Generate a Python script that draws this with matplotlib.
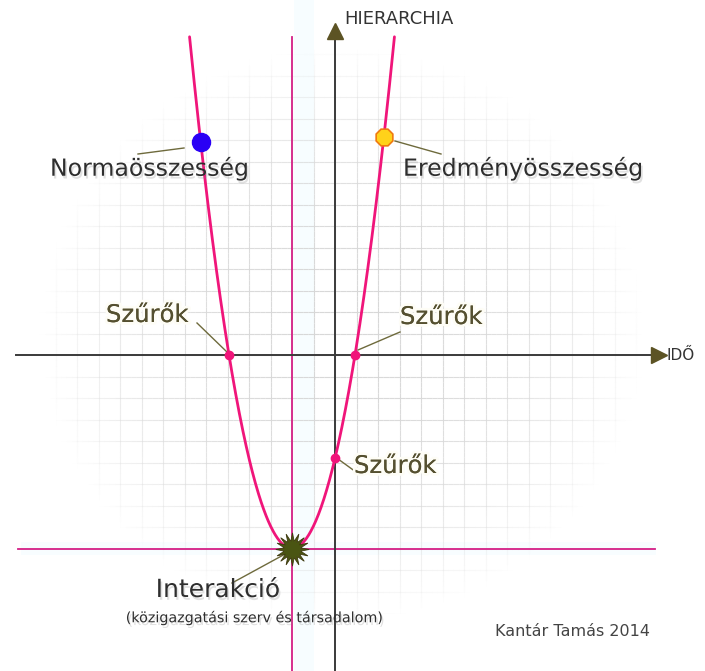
# Parabola chart: hierarchy vs. time (Kantár Tamás 2014)
import numpy as np
import matplotlib
matplotlib.use("Agg")
import matplotlib.pyplot as plt
import matplotlib.patheffects as pe
from matplotlib.collections import LineCollection

# data, in grid units (one unit = one grid cell), origin where the axes cross
vertex = (-2.0, -9.0)        # Interakció
root_half_width = 2.93       # parabola meets the IDŐ axis at vertex_x +/- this
curve_top = 14.8             # where the curve is cut off at the top
norma_y = 9.9                # blue dot height (left branch)
eredmeny_y = 10.14           # yellow dot height (right branch)

labels = ["Normaösszesség", "Eredményösszesség", "Szűrők", "Szűrők", "Szűrők",
          "Interakció", "(közigazgatási szerv és társadalom)"]
axis_names = ["HIERARCHIA", "IDŐ"]
credit = "Kantár Tamás 2014"

pink = "#f0157a"
line_pink = "#d41f86"
olive = "#5c5324"
text_dark = "#2e2e2e"

def px_x(p):  # reference pixel column -> grid units
    return (p - 335) / 21.5

def px_y(p):
    return (355 - p) / 21.5

vx, vy = vertex
a = -vy / root_half_width ** 2

def branch_x(y, side):
    return vx + side * np.sqrt((y - vy) / a)

fig = plt.figure(figsize=(7.05, 6.71), dpi=100)
ax = fig.add_axes([0, 0, 1, 1])
ax.set_xlim(px_x(0), px_x(705))
ax.set_ylim(px_y(671), px_y(0))
ax.axis("off")

# faded background grid
segs, cols = [], []
gx = np.arange(-14, 15)
gy = np.arange(-13, 15)
step = np.linspace(-14.5, 15.5, 121)
for k in gx:
    for y0, y1 in zip(step[:-1], step[1:]):
        segs.append([(k, y0), (k, y1)])
for k in gy:
    for x0, x1 in zip(step[:-1], step[1:]):
        segs.append([(x0, k), (x1, k)])
for s in segs:
    mx = (s[0][0] + s[1][0]) / 2
    my = (s[0][1] + s[1][1]) / 2
    r = np.hypot(mx - 0.3, (my - 1.0) * 1.05) / 14.0
    al = np.clip(1 - r ** 2.5, 0, 1) * 0.9
    cols.append((0.83, 0.83, 0.83, al))
ax.add_collection(LineCollection(segs, colors=cols, linewidths=0.8, zorder=1))

# very faint cyan glow along the pink guide lines
ax.axvspan(vx + 0.1, vx + 1.0, color="#f7fdff", zorder=0.5, lw=0)
ax.axhspan(vy - 0.3, vy + 0.3, xmin=0.03, xmax=0.93, color="#f8fdff", zorder=0.5, lw=0)

# pink guide lines through the vertex
ax.plot([vx, vx], [px_y(671), curve_top], color=line_pink, lw=1.3, zorder=2)
ax.plot([px_x(18), px_x(655)], [vy, vy], color=line_pink, lw=1.3, zorder=2)

# axes with arrows
ax.plot([0, 0], [px_y(671), px_y(35)], color="#3a3a3a", lw=1.4, zorder=3)
ax.plot([px_x(16), px_x(655)], [0, 0], color="#3a3a3a", lw=1.4, zorder=3)
ax.plot(0, px_y(31), marker="^", ms=11, color=olive, zorder=4)
ax.plot(px_x(659), 0, marker=">", ms=11, color=olive, zorder=4)

# parabola
ys = np.linspace(vy, curve_top, 300)
xs = np.concatenate([branch_x(ys[::-1], -1), branch_x(ys, 1)])
yy = np.concatenate([ys[::-1], ys])
ax.plot(xs, yy, color=pink, lw=2.0, zorder=5, solid_capstyle="round")

# leader lines
olive_line = dict(color="#6e6a3c", lw=1.0, zorder=4)
ax.plot([px_x(138), px_x(184)], [px_y(154), px_y(148)], **olive_line)
ax.plot([px_x(395), px_x(441)], [px_y(141), px_y(154)], **olive_line)
ax.plot([px_x(197), px_x(228)], [px_y(323), px_y(353)], **olive_line)
ax.plot([px_x(358), px_x(400)], [px_y(350), px_y(332)], **olive_line)
ax.plot([0.1, px_x(356)], [a * vx ** 2 + vy, px_y(472)], **olive_line)
ax.plot([px_x(232), px_x(287)], [px_y(583), px_y(553)], **olive_line)

# markers on the curve
cross = [branch_x(0, -1), branch_x(0, 1)]
ax.plot(cross, [0, 0], "o", ms=6, color=pink, zorder=6)
ax.plot(0, a * vx ** 2 + vy, "o", ms=6, color=pink, zorder=6)
ax.plot(branch_x(norma_y, -1), norma_y, "o", ms=13, color="#2a00f5", zorder=7)
ax.plot(branch_x(eredmeny_y, 1), eredmeny_y, marker=(8, 0, 22.5), ms=13,
        color="#ffd21a", mec="#f07a10", mew=1.2, zorder=7)
ax.plot(vx, vy, marker=(16, 1, 0), ms=24, color="#4a5512", mec="#3f3a10",
        mew=0.6, zorder=7)

shadow = [pe.SimplePatchShadow(offset=(1.2, -2.0), shadow_rgbFace="#888888", alpha=0.25),
          pe.Normal()]
glow = [pe.withStroke(linewidth=4, foreground="#fefdf6"), pe.Normal()]

ax.text(px_x(50), px_y(168), labels[0], fontsize=17, color=text_dark,
        va="center", ha="left", path_effects=shadow, zorder=8)
ax.text(px_x(403), px_y(168), labels[1], fontsize=17, color=text_dark,
        va="center", ha="left", path_effects=shadow, zorder=8)
szurok = dict(fontsize=17.5, color="#555030", va="center", ha="left",
              path_effects=glow, zorder=8)
ax.text(px_x(106), px_y(315), labels[2], **szurok)
ax.text(px_x(400), px_y(317), labels[3], **szurok)
ax.text(px_x(354), px_y(466), labels[4], **szurok)
ax.text(px_x(218), px_y(590), labels[5], fontsize=18, color=text_dark,
        va="center", ha="center", path_effects=shadow, zorder=8)
ax.text(px_x(254), px_y(618), labels[6], fontsize=10.3, color=text_dark,
        va="center", ha="center", path_effects=shadow, zorder=8)

ax.text(px_x(344), px_y(19), axis_names[0], fontsize=13, color="#333333",
        va="center", ha="left", zorder=8)
ax.text(px_x(667), px_y(355), axis_names[1], fontsize=11, color="#333333",
        va="center", ha="left", zorder=8)
ax.text(px_x(495), px_y(631), credit, fontsize=11.5, color="#444444",
        va="center", ha="left", zorder=8)

fig.savefig("out.png", dpi=100)
